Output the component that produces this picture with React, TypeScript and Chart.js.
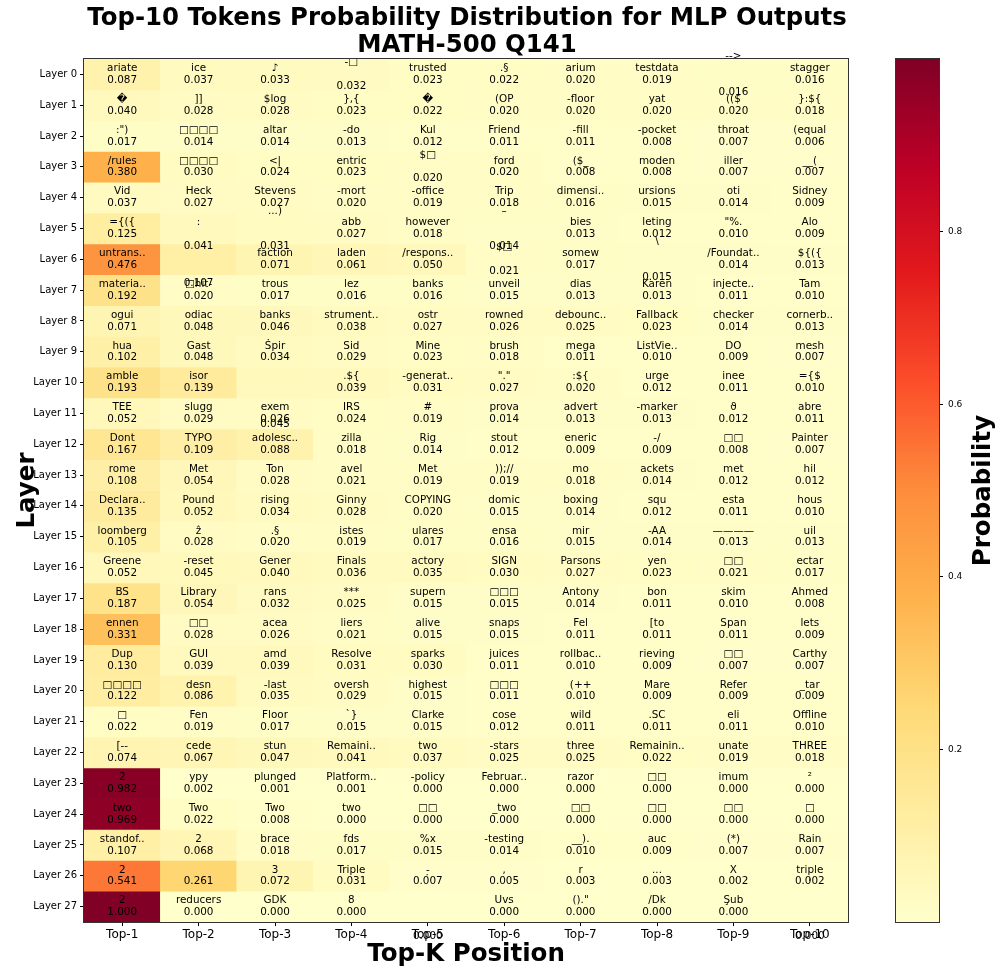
import React, { useEffect, useRef } from 'react';
import { Chart, registerables } from 'chart.js';

Chart.register(...registerables);

const topK = ['Top-1', 'Top-2', 'Top-3', 'Top-4', 'Top-5', 'Top-6', 'Top-7', 'Top-8', 'Top-9', 'Top-10'];

const layerLabels = [
  'Layer 0', 'Layer 1', 'Layer 2', 'Layer 3', 'Layer 4', 'Layer 5', 'Layer 6', 'Layer 7',
  'Layer 8', 'Layer 9', 'Layer 10', 'Layer 11', 'Layer 12', 'Layer 13', 'Layer 14', 'Layer 15',
  'Layer 16', 'Layer 17', 'Layer 18', 'Layer 19', 'Layer 20', 'Layer 21', 'Layer 22', 'Layer 23',
  'Layer 24', 'Layer 25', 'Layer 26', 'Layer 27',
];

const tokens: string[][] = [
  ['ariate', 'ice', '♪', '-□\n', 'trusted', '.§', 'arium', 'testdata', '-->\n\n', 'stagger'],
  ['\uFFFD', ']]', '$log', '},{', '\uFFFD', '(OP', '-floor', 'yat', '(($', '}:${'],
  [':")', '□□□□', 'altar', '-do', 'Kul', 'Friend', '-fill', '-pocket', 'throat', '(equal'],
  ['/rules', '□□□□', '<|', 'entric', '$□\n', 'ford', '($_', 'moden', 'iller', '__('],
  ['Vid', 'Heck', 'Stevens', '-mort', '-office', 'Trip', 'dimensi..', 'ursions', 'oti', 'Sidney'],
  ['={({', '\n:\n', '...)\n\n', 'abb', 'however', '–\n\n', 'bies', 'leting', '"%.', 'Alo'],
  ['untrans..', '\n\n\n', 'faction', 'laden', '/respons..', '$□\n', 'somew', '\\\n\n', '/Foundat..', '${({'],
  ['materia..', '□hit-', 'trous', 'lez', 'banks', 'unveil', 'dias', 'Karen', 'injecte..', 'Tam'],
  ['ogui', 'odiac', 'banks', 'strument..', 'ostr', 'rowned', 'debounc..', 'Fallback', 'checker', 'cornerb..'],
  ['hua', 'Gast', 'Ṡpir', 'Sid', 'Mine', 'brush', 'mega', 'ListVie..', 'DO', 'mesh'],
  ['amble', 'isor', '\n\n\n\n\n\n', '.${', '-generat..', '"."', ':${', 'urge', 'inee', '={$'],
  ['TEE', 'slugg', 'exem', 'IRS', '#', 'prova', 'advert', '-marker', 'ϑ', 'abre'],
  ['Dont', 'TYPO', 'adolesc..', 'zilla', 'Rig', 'stout', 'eneric', '-/', '□□', 'Painter'],
  ['rome', 'Met', 'Ton', 'avel', 'Met', '));//', 'mo', 'ackets', 'met', 'hil'],
  ['Declara..', 'Pound', 'rising', 'Ginny', 'COPYING', 'domic', 'boxing', 'squ', 'esta', 'hous'],
  ['loomberg', 'ẑ', '.§', 'istes', 'ulares', 'ensa', 'mir', '-AA', '————', 'uil'],
  ['Greene', '-reset', 'Gener', 'Finals', 'actory', 'SIGN', 'Parsons', 'yen', '□□', 'ectar'],
  ['BS', 'Library', 'rans', '***', 'supern', '□□□', 'Antony', 'bon', 'skim', 'Ahmed'],
  ['ennen', '□□', 'acea', 'liers', 'alive', 'snaps', 'Fel', '[to', 'Span', 'lets'],
  ['Dup', 'GUI', 'amd', 'Resolve', 'sparks', 'juices', 'rollbac..', 'rieving', '□□', 'Carthy'],
  ['□□□□', 'desn', '-last', 'oversh', 'highest', '□□□', '(++', 'Mare', 'Refer', '_tar'],
  ['□', 'Fen', 'Floor', '`}', 'Clarke', 'cose', 'wild', '.SC', 'eli', 'Offline'],
  ['[--', 'cede', 'stun', 'Remaini..', 'two', '-stars', 'three', 'Remainin..', 'unate', 'THREE'],
  ['2', 'ypy', 'plunged', 'Platform..', '-policy', 'Februar..', 'razor', '□□', 'imum', '²'],
  ['two', 'Two', 'Two', 'two', '□□', '_two', '□□', '□□', '□□', '□'],
  ['standof..', '2', 'brace', 'fds', '%x', '-testing', '__).', 'auc', '(*)', 'Rain'],
  ['2', '', '3', 'Triple', '-\u0323', ',', 'r', '...', 'X', 'triple'],
  ['2', 'reducers', 'GDK', '8', '\n\n\n\n', 'Uvs', '()."', '/Dk', 'Şub', ',\n\n\n\n'],
];

const probs: number[][] = [
  [0.087, 0.037, 0.033, 0.032, 0.023, 0.022, 0.020, 0.019, 0.016, 0.016],
  [0.040, 0.028, 0.028, 0.023, 0.022, 0.020, 0.020, 0.020, 0.020, 0.018],
  [0.017, 0.014, 0.014, 0.013, 0.012, 0.011, 0.011, 0.008, 0.007, 0.006],
  [0.380, 0.030, 0.024, 0.023, 0.020, 0.020, 0.008, 0.008, 0.007, 0.007],
  [0.037, 0.027, 0.027, 0.020, 0.019, 0.018, 0.016, 0.015, 0.014, 0.009],
  [0.125, 0.041, 0.031, 0.027, 0.018, 0.014, 0.013, 0.012, 0.010, 0.009],
  [0.476, 0.107, 0.071, 0.061, 0.050, 0.021, 0.017, 0.015, 0.014, 0.013],
  [0.192, 0.020, 0.017, 0.016, 0.016, 0.015, 0.013, 0.013, 0.011, 0.010],
  [0.071, 0.048, 0.046, 0.038, 0.027, 0.026, 0.025, 0.023, 0.014, 0.013],
  [0.102, 0.048, 0.034, 0.029, 0.023, 0.018, 0.011, 0.010, 0.009, 0.007],
  [0.193, 0.139, 0.045, 0.039, 0.031, 0.027, 0.020, 0.012, 0.011, 0.010],
  [0.052, 0.029, 0.026, 0.024, 0.019, 0.014, 0.013, 0.013, 0.012, 0.011],
  [0.167, 0.109, 0.088, 0.018, 0.014, 0.012, 0.009, 0.009, 0.008, 0.007],
  [0.108, 0.054, 0.028, 0.021, 0.019, 0.019, 0.018, 0.014, 0.012, 0.012],
  [0.135, 0.052, 0.034, 0.028, 0.020, 0.015, 0.014, 0.012, 0.011, 0.010],
  [0.105, 0.028, 0.020, 0.019, 0.017, 0.016, 0.015, 0.014, 0.013, 0.013],
  [0.052, 0.045, 0.040, 0.036, 0.035, 0.030, 0.027, 0.023, 0.021, 0.017],
  [0.187, 0.054, 0.032, 0.025, 0.015, 0.015, 0.014, 0.011, 0.010, 0.008],
  [0.331, 0.028, 0.026, 0.021, 0.015, 0.015, 0.011, 0.011, 0.011, 0.009],
  [0.130, 0.039, 0.039, 0.031, 0.030, 0.011, 0.010, 0.009, 0.007, 0.007],
  [0.122, 0.086, 0.035, 0.029, 0.015, 0.011, 0.010, 0.009, 0.009, 0.009],
  [0.022, 0.019, 0.017, 0.015, 0.015, 0.012, 0.011, 0.011, 0.011, 0.010],
  [0.074, 0.067, 0.047, 0.041, 0.037, 0.025, 0.025, 0.022, 0.019, 0.018],
  [0.982, 0.002, 0.001, 0.001, 0.000, 0.000, 0.000, 0.000, 0.000, 0.000],
  [0.969, 0.022, 0.008, 0.000, 0.000, 0.000, 0.000, 0.000, 0.000, 0.000],
  [0.107, 0.068, 0.018, 0.017, 0.015, 0.014, 0.010, 0.009, 0.007, 0.007],
  [0.541, 0.261, 0.072, 0.031, 0.007, 0.005, 0.003, 0.003, 0.002, 0.002],
  [1.000, 0.000, 0.000, 0.000, 0.000, 0.000, 0.000, 0.000, 0.000, 0.000],
];

const colorbarTicks = [0.2, 0.4, 0.6, 0.8];
const YLORRD = ['#ffffcc', '#ffeda0', '#fed976', '#feb24c', '#fd8d3c', '#fc4e2a', '#e31a1c', '#bd0026', '#800026'];

const FONT = "'DejaVu Sans', sans-serif";

function hexToRgb(h: string) {
  return [parseInt(h.slice(1, 3), 16), parseInt(h.slice(3, 5), 16), parseInt(h.slice(5, 7), 16)];
}
function cmap(v: number) {
  const t = Math.max(0, Math.min(1, v)) * (YLORRD.length - 1);
  const i = Math.min(Math.floor(t), YLORRD.length - 2);
  const f = t - i;
  const a = hexToRgb(YLORRD[i]);
  const b = hexToRgb(YLORRD[i + 1]);
  const c = a.map((x, k) => Math.round(x + (b[k] - x) * f));
  return `rgb(${c[0]},${c[1]},${c[2]})`;
}

const LINE_H = 11.8;

const cellTextPlugin = {
  id: 'cellText',
  afterDatasetsDraw(chart: any) {
    const ctx = chart.ctx;
    const yScale = chart.scales.y;
    ctx.save();
    ctx.font = `10.4px ${FONT}`;
    ctx.fillStyle = '#000';
    ctx.textAlign = 'center';
    ctx.textBaseline = 'middle';
    tokens.forEach((row, r) => {
      const meta = chart.getDatasetMeta(r);
      const yc = yScale.getPixelForValue(r);
      row.forEach((tok, c) => {
        const el = meta.data[c];
        if (!el) return;
        const lines = (tok + '\n' + probs[r][c].toFixed(3)).split('\n');
        const n = lines.length;
        lines.forEach((ln, k) => {
          if (!ln) return;
          ctx.fillText(ln, el.x, yc + (k - (n - 1) / 2) * LINE_H);
        });
      });
    });
    ctx.restore();
  },
  afterDraw(chart: any) {
    const { ctx, chartArea: a } = chart;
    ctx.save();
    ctx.strokeStyle = '#333';
    ctx.lineWidth = 1;
    ctx.strokeRect(Math.round(a.left) - 0.5, Math.round(a.top) - 0.5, Math.round(a.right - a.left) + 1, Math.round(a.bottom - a.top) + 1);
    ctx.restore();
  },
};

const colorbarPlugin = {
  id: 'colorbarFill',
  beforeDatasetsDraw(chart: any) {
    const { ctx, chartArea: a } = chart;
    const y = chart.scales.y;
    const g = ctx.createLinearGradient(0, y.getPixelForValue(0), 0, y.getPixelForValue(1));
    YLORRD.forEach((col, i) => g.addColorStop(i / (YLORRD.length - 1), col));
    ctx.save();
    ctx.fillStyle = g;
    ctx.fillRect(a.left, a.top, a.right - a.left, a.bottom - a.top);
    ctx.strokeStyle = '#333';
    ctx.lineWidth = 1;
    ctx.strokeRect(Math.round(a.left) - 0.5, Math.round(a.top) - 0.5, Math.round(a.right - a.left) + 1, Math.round(a.bottom - a.top) + 1);
    ctx.translate(124, (a.top + a.bottom) / 2);
    ctx.rotate(-Math.PI / 2);
    ctx.font = `bold 24.5px ${FONT}`;
    ctx.fillStyle = '#000';
    ctx.textAlign = 'center';
    ctx.textBaseline = 'middle';
    ctx.fillText('Probability', 0, 0);
    ctx.restore();
  },
};

export default function App() {
  const mainRef = useRef<HTMLCanvasElement>(null);
  const cbRef = useRef<HTMLCanvasElement>(null);

  useEffect(() => {
    Chart.defaults.font.family = FONT;
    const datasets = layerLabels.map((lab, r) => ({
      label: lab,
      data: topK.map(() => [r - 0.5, r + 0.5]),
      backgroundColor: probs[r].map(cmap),
      borderWidth: 0,
      grouped: false,
      barPercentage: 1,
      categoryPercentage: 1,
    }));
    const main = new Chart(mainRef.current as HTMLCanvasElement, {
      type: 'bar',
      data: { labels: topK, datasets: datasets as any },
      options: {
        responsive: false,
        animation: false,
        devicePixelRatio: 1,
        layout: { padding: 0 },
        plugins: {
          legend: { display: false },
          tooltip: { enabled: false },
          title: {
            display: true,
            text: ['Top-10 Tokens Probability Distribution for MLP Outputs', 'MATH-500 Q141'],
            color: '#000',
            font: { size: 24.4, weight: 'bold', family: FONT, lineHeight: 1.1 },
            padding: { top: 5, bottom: 0.3 },
          },
        },
        scales: {
          x: {
            type: 'category',
            grid: { display: true, offset: false, drawOnChartArea: false, drawTicks: true, tickLength: 4, color: '#000' },
            border: { display: false },
            ticks: { color: '#000', font: { size: 12, family: FONT }, padding: 2, maxRotation: 0, autoSkip: false },
            title: { display: true, text: 'Top-K Position', color: '#000', font: { size: 24.5, weight: 'bold', family: FONT }, padding: { top: 0, bottom: 7 } },
            afterFit: (s: any) => { s.height = 54; },
          },
          y: {
            type: 'linear',
            reverse: true,
            min: -0.5,
            max: 27.5,
            afterBuildTicks: (s: any) => { s.ticks = layerLabels.map((_, i) => ({ value: i })); },
            grid: { display: true, drawOnChartArea: false, drawTicks: true, tickLength: 4, color: '#000' },
            border: { display: false },
            ticks: {
              color: '#000',
              font: { size: 10, family: FONT },
              padding: 3,
              autoSkip: false,
              callback: (v: any) => layerLabels[Math.round(Number(v))] ?? '',
            },
            title: { display: true, text: 'Layer', color: '#000', font: { size: 24.5, weight: 'bold', family: FONT }, padding: { top: 13, bottom: 0 } },
            afterFit: (s: any) => { s.width = 84; },
          },
          yr: {
            type: 'linear',
            position: 'right',
            display: true,
            grid: { display: false },
            border: { display: false },
            ticks: { display: false },
            afterFit: (s: any) => { s.width = 86; },
          },
        },
      } as any,
      plugins: [cellTextPlugin],
    });

    const cb = new Chart(cbRef.current as HTMLCanvasElement, {
      type: 'bar',
      data: { labels: [''], datasets: [] },
      options: {
        responsive: false,
        animation: false,
        devicePixelRatio: 1,
        layout: { padding: { left: 36, top: 59, bottom: 54, right: 0 } },
        plugins: { legend: { display: false }, tooltip: { enabled: false }, title: { display: false } },
        scales: {
          x: { display: false },
          y: {
            type: 'linear',
            position: 'right',
            min: 0,
            max: 1,
            afterBuildTicks: (s: any) => { s.ticks = colorbarTicks.map((v) => ({ value: v })); },
            grid: { display: true, drawOnChartArea: false, drawTicks: true, tickLength: 4, color: '#000' },
            border: { display: false },
            ticks: { color: '#000', font: { size: 9, family: FONT }, padding: 5, callback: (v: any) => Number(v).toFixed(1) },
            afterFit: (s: any) => { s.width = 58; },
          },
        },
      } as any,
      plugins: [colorbarPlugin],
    });

    return () => {
      main.destroy();
      cb.destroy();
    };
  }, []);

  return (
    <div style={{ position: 'absolute', left: 0, top: 0, width: 997, height: 976, background: '#fff' }}>
      <canvas ref={mainRef} width={934} height={976} style={{ position: 'absolute', left: 0, top: 0, width: 934, height: 976 }} />
      <canvas ref={cbRef} width={137} height={976} style={{ position: 'absolute', left: 860, top: 0, width: 137, height: 976 }} />
    </div>
  );
}
